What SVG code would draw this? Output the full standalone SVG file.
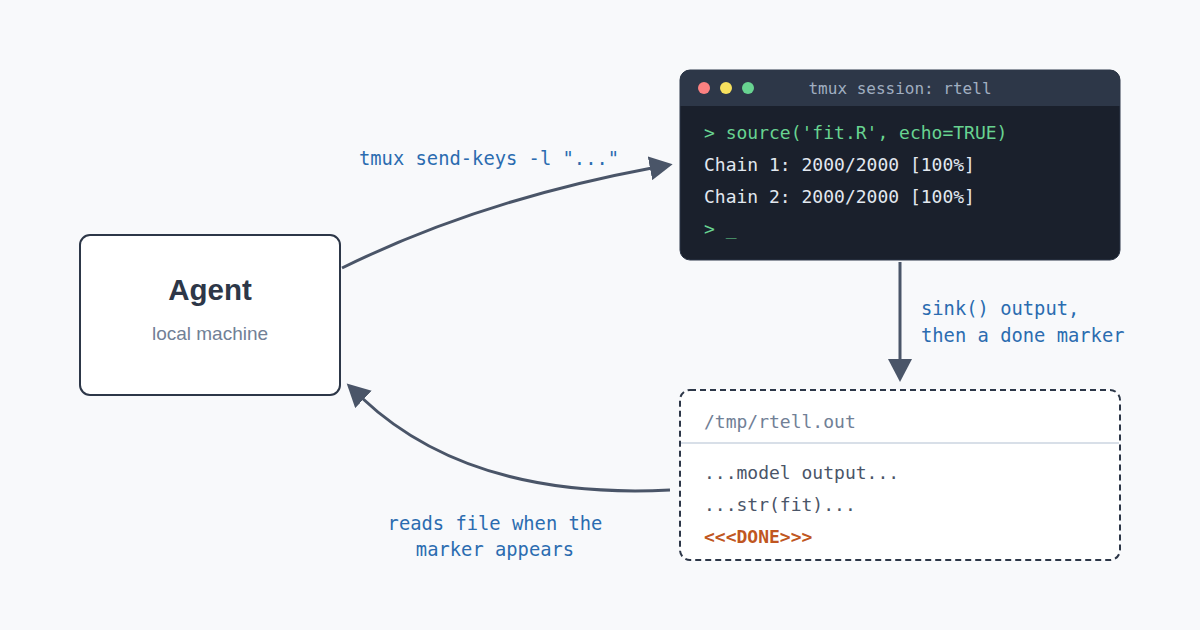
<svg xmlns="http://www.w3.org/2000/svg" width="1200" height="630" viewBox="0 0 1200 630">
<style>
.mono{font-family:"DejaVu Sans Mono","Liberation Mono",monospace}
.lbl{font-family:"DejaVu Sans Mono","Liberation Mono",monospace;font-size:18.8px;fill:#2b6cb0}
.term{font-size:18px}
.conn{fill:none;stroke:#4a5568;stroke-width:3}
</style>
<defs>
<marker id="ah" markerUnits="userSpaceOnUse" markerWidth="24" markerHeight="24" refX="2" refY="12" orient="auto" viewBox="0 0 24 24">
<path d="M0,0 L23,12 L0,24 z" fill="#4a5568"/>
</marker>
</defs>
<rect width="1200" height="630" fill="#f8f9fb"/>
<g id="connectors">
<path class="conn" d="M342,268 Q480,200 652,168" marker-end="url(#ah)"/>
<path class="conn" d="M900,262 L900,361" marker-end="url(#ah)"/>
<path class="conn" d="M670,490 Q470,500 362,398" marker-end="url(#ah)"/>
<text class="lbl" x="359" y="165">tmux send-keys -l "..."</text>
<text class="lbl" x="921" y="315">sink() output,</text>
<text class="lbl" x="921" y="342">then a done marker</text>
<text class="lbl" x="495" y="530" text-anchor="middle">reads file when the</text>
<text class="lbl" x="495" y="556" text-anchor="middle">marker appears</text>
</g>
<g id="agent">
<rect x="80" y="235" width="260" height="160" rx="10" fill="#ffffff" stroke="#2d3748" stroke-width="2"/>
<text x="210" y="300" text-anchor="middle" font-family="'Liberation Sans',Arial,sans-serif" font-weight="bold" font-size="29.5" fill="#2d3748">Agent</text>
<text x="210" y="340" text-anchor="middle" font-family="'Liberation Sans',Arial,sans-serif" font-size="19" fill="#718096">local machine</text>
</g>
<g id="terminal">
<rect x="680" y="70" width="440" height="190" rx="10" fill="#1a202c" stroke="#2d3748" stroke-width="1"/>
<path d="M690,70 H1110 A10,10 0 0 1 1120,80 V106 H680 V80 A10,10 0 0 1 690,70 z" fill="#2d3748"/>
<circle cx="704" cy="88" r="6" fill="#fc8181"/>
<circle cx="726" cy="88" r="6" fill="#f6e05e"/>
<circle cx="748" cy="88" r="6" fill="#68d391"/>
<text class="mono" x="900" y="94" text-anchor="middle" font-size="16" fill="#a0aec0">tmux session: rtell</text>
<text class="mono term" x="704" y="139" fill="#68d391">&gt; source('fit.R', echo=TRUE)</text>
<text class="mono term" x="704" y="171" fill="#e2e8f0">Chain 1: 2000/2000 [100%]</text>
<text class="mono term" x="704" y="203" fill="#e2e8f0">Chain 2: 2000/2000 [100%]</text>
<text class="mono term" x="704" y="235" fill="#68d391">&gt; _</text>
</g>
<g id="outfile">
<rect x="680" y="390" width="440" height="170" rx="10" fill="#ffffff" stroke="#2d3748" stroke-width="2" stroke-dasharray="6 4"/>
<line x1="681" y1="443" x2="1119" y2="443" stroke="#cbd5e0" stroke-width="1.5"/>
<text class="mono term" x="704" y="428" fill="#718096">/tmp/rtell.out</text>
<text class="mono term" x="704" y="479" fill="#4a5568">...model output...</text>
<text class="mono term" x="704" y="511" fill="#4a5568">...str(fit)...</text>
<text class="mono term" x="704" y="543" fill="#c05621" font-weight="bold">&lt;&lt;&lt;DONE&gt;&gt;&gt;</text>
</g>
</svg>
